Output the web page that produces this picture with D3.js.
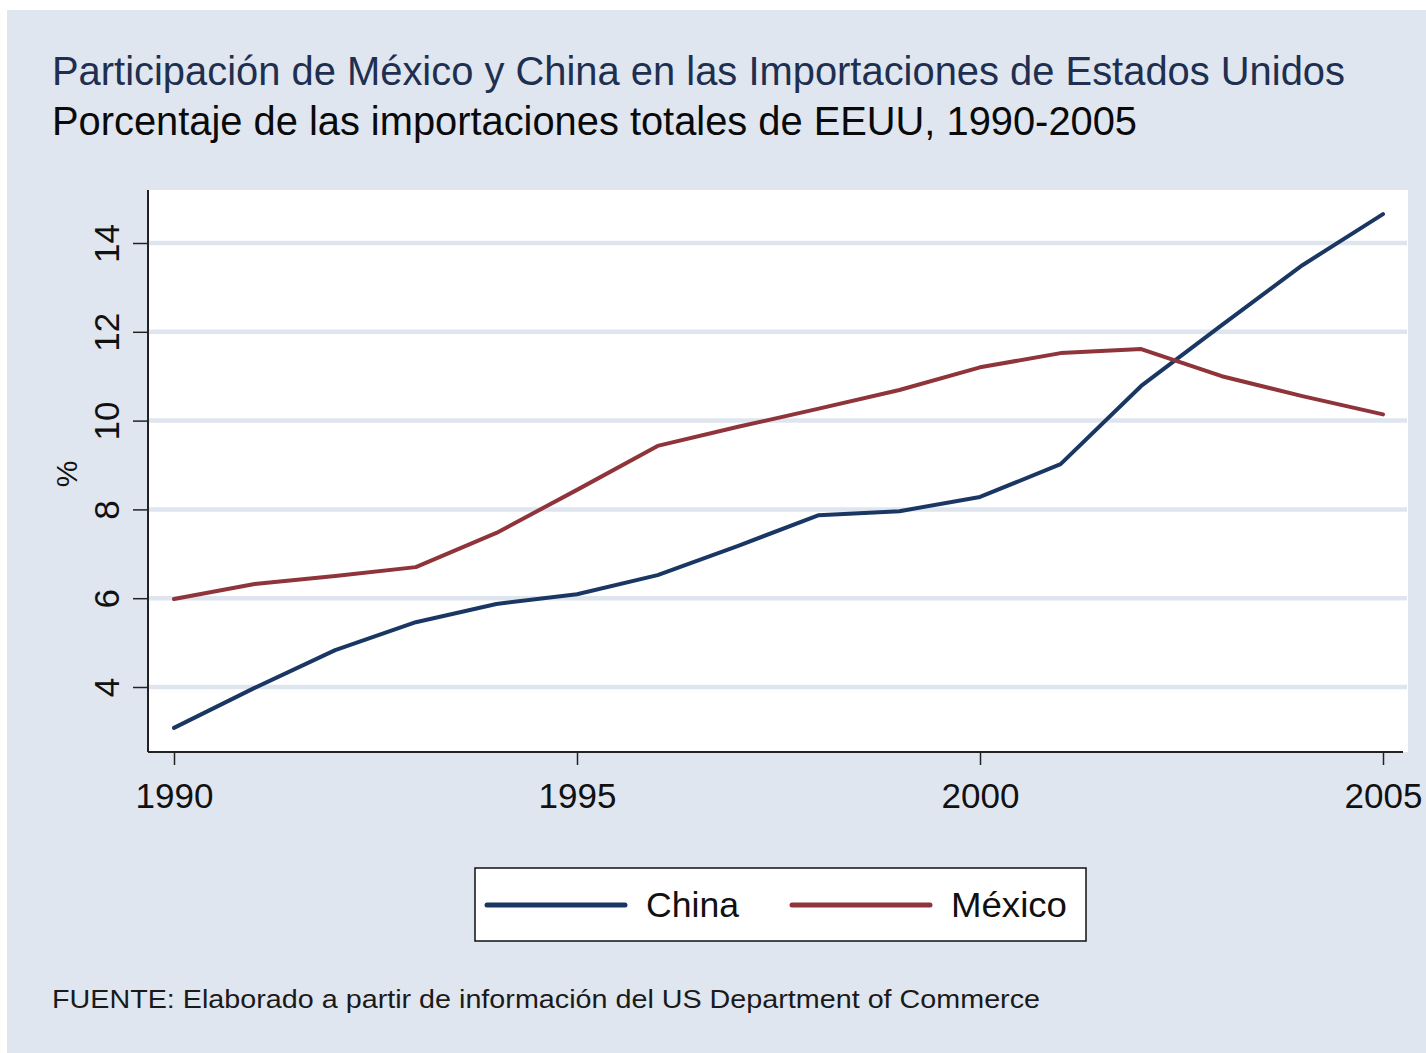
<!DOCTYPE html>
<html>
<head>
<meta charset="utf-8">
<script src="https://cdn.jsdelivr.net/npm/d3@7"></script>
<style>
html,body{margin:0;padding:0;background:#fff;}
svg{display:block;}
text{font-family:"Liberation Sans", Arial, sans-serif;}
</style>
</head>
<body>
<svg id="chart" width="1426" height="1053"></svg>
<script>
const years = [1990,1991,1992,1993,1994,1995,1996,1997,1998,1999,2000,2001,2002,2003,2004,2005];
const china = [3.08,3.98,4.83,5.46,5.87,6.09,6.52,7.18,7.87,7.96,8.28,9.02,10.78,12.15,13.5,14.65];
const mexico = [5.98,6.32,6.5,6.7,7.47,8.44,9.43,9.86,10.27,10.69,11.2,11.52,11.61,11.0,10.55,10.14];
const xTicks = [1990,1995,2000,2005];
const yTicks = [4,6,8,10,12,14];
const seriesNames = ["China","México"];
const seriesColors = ["#1a3764","#8f343a"];
const titleText = "Participación de México y China en las Importaciones de Estados Unidos";
const subtitleText = "Porcentaje de las importaciones totales de EEUU, 1990-2005";
const noteText = "FUENTE: Elaborado a partir de información del US Department of Commerce";

const svg = d3.select("#chart");
svg.append("rect").attr("x",7).attr("y",10).attr("width",1419).attr("height",1043).attr("fill","#e0e6ef");

// plot region
const plot = {left:148, top:190, right:1408, bottom:752};
svg.append("rect").attr("x",plot.left).attr("y",plot.top)
  .attr("width",plot.right-plot.left).attr("height",plot.bottom-plot.top).attr("fill","#ffffff");

const x = d3.scaleLinear().domain([1990,2005]).range([174,1383]);
const y = d3.scaleLinear().domain([4,14]).range([687,243]);

// gridlines
svg.append("g").selectAll("line").data(yTicks).join("line")
  .attr("x1",plot.left+1).attr("x2",plot.right-1)
  .attr("y1",d=>y(d)).attr("y2",d=>y(d))
  .attr("stroke","#dfe5ee").attr("stroke-width",4.5);

// axes
const yAxis = d3.axisLeft(y).tickValues(yTicks).tickSize(15).tickSizeOuter(0).tickPadding(14);
const gy = svg.append("g").attr("transform",`translate(${plot.left},0)`).call(yAxis);
gy.select(".domain").remove();
gy.append("line").attr("x1",0).attr("x2",0).attr("y1",plot.top).attr("y2",plot.bottom).attr("stroke","#222").attr("stroke-width",2);
gy.selectAll(".tick line").attr("stroke","#222").attr("stroke-width",1.5);
gy.selectAll(".tick text").attr("font-size",35).attr("fill","#111")
  .attr("transform",function(d){return `rotate(-90, -29, 0)`;})
  .attr("x",-29).attr("y",0).attr("dy","0")
  .attr("text-anchor","middle");

const xAxis = d3.axisBottom(x).tickValues(xTicks).tickFormat(d3.format("d")).tickSize(13).tickSizeOuter(0).tickPadding(18);
const gx = svg.append("g").attr("transform",`translate(0,${plot.bottom})`).call(xAxis);
gx.select(".domain").remove();
gx.append("line").attr("x1",plot.left).attr("x2",1403).attr("y1",0).attr("y2",0).attr("stroke","#222").attr("stroke-width",2);
gx.selectAll(".tick line").attr("stroke","#222").attr("stroke-width",1.5);
gx.selectAll(".tick text").attr("font-size",35).attr("fill","#111").attr("dy","0.71em");

// y label
svg.append("text").attr("transform","translate(77,474) rotate(-90)")
  .attr("text-anchor","middle").attr("font-size",30).attr("fill","#111").text("%");

// lines
const line = d3.line().x((d,i)=>x(years[i])).y(d=>y(d));
[china, mexico].forEach((s,k)=>{
  svg.append("path").datum(s).attr("d",line).attr("fill","none")
    .attr("stroke",seriesColors[k]).attr("stroke-width",4).attr("stroke-linejoin","round").attr("stroke-linecap","round");
});

// titles
svg.append("text").attr("x",52).attr("y",85).attr("font-size",40).attr("fill","#1e2f50")
  .attr("textLength",1293).attr("lengthAdjust","spacingAndGlyphs").text(titleText);
svg.append("text").attr("x",52).attr("y",135).attr("font-size",40).attr("fill","#0a0a0a")
  .attr("textLength",1085).attr("lengthAdjust","spacingAndGlyphs").text(subtitleText);

// legend
svg.append("rect").attr("x",475).attr("y",868).attr("width",611).attr("height",73)
  .attr("fill","#ffffff").attr("stroke","#111").attr("stroke-width",1.5);
const legX = [[487,625,646],[792,930,951]];
seriesNames.forEach((n,k)=>{
  svg.append("line").attr("x1",legX[k][0]).attr("x2",legX[k][1]).attr("y1",905).attr("y2",905)
    .attr("stroke",seriesColors[k]).attr("stroke-width",5).attr("stroke-linecap","round");
  svg.append("text").attr("x",legX[k][2]).attr("y",917).attr("font-size",35).attr("fill","#111")
    .attr("textLength",k===0?93:116).attr("lengthAdjust","spacingAndGlyphs").text(n);
});

// note
svg.append("text").attr("x",52).attr("y",1008).attr("font-size",25).attr("fill","#1a1a1a")
  .attr("textLength",988).attr("lengthAdjust","spacingAndGlyphs").text(noteText);
</script>
</body>
</html>
